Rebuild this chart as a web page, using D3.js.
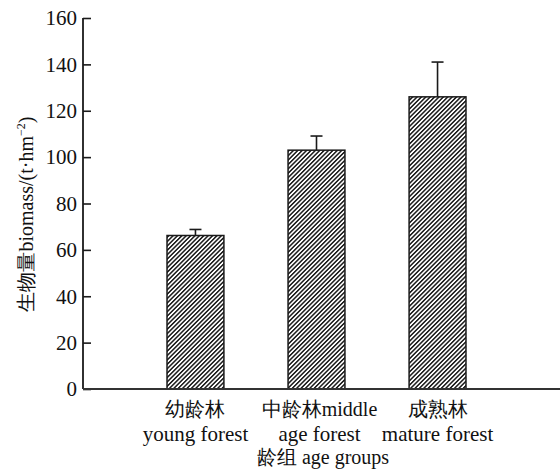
<!DOCTYPE html>
<html>
<head>
<meta charset="utf-8">
<script src="https://cdn.jsdelivr.net/npm/d3@7"></script>
<style>
  html, body { margin: 0; padding: 0; background: #fff; }
  #chart text { font-family: "Liberation Serif", serif; }
</style>
</head>
<body>
<svg id="chart" width="560" height="471"></svg>
<script>
// Biomass by forest age group
const groupsZh = ["幼龄林", "中龄林middle", "成熟林"];
const groupsEn = ["young forest", "age forest", "mature forest"];
const biomass = [66.2, 103.0, 126.0];
const errors = [2.6, 6.1, 15.0];
const yTicks = [0, 20, 40, 60, 80, 100, 120, 140, 160];

const svg = d3.select("#chart");
const plotLeft = 83, plotRight = 560, plotTop = 18, plotBottom = 389;

const y = d3.scaleLinear().domain([0, 160]).range([plotBottom, plotTop]);
const x = d3.scaleBand().domain(d3.range(biomass.length))
  .range([106.5, 526.5]).paddingInner(0.53).paddingOuter(0.5);

// diagonal hatch fill
const defs = svg.append("defs");
const pat = defs.append("pattern")
  .attr("id", "hatch").attr("patternUnits", "userSpaceOnUse")
  .attr("width", 3.1).attr("height", 3.1)
  .attr("patternTransform", "rotate(45)");
pat.append("rect").attr("width", 3.1).attr("height", 3.1).attr("fill", "#fff");
pat.append("rect").attr("width", 1.5).attr("height", 3.1).attr("fill", "#1a1a1a");

// bars
svg.append("g").selectAll("rect").data(biomass).join("rect")
  .attr("x", (d, i) => x(i))
  .attr("y", d => y(d))
  .attr("width", x.bandwidth())
  .attr("height", d => plotBottom - y(d))
  .attr("fill", "url(#hatch)")
  .attr("stroke", "#1a1a1a").attr("stroke-width", 1.5);

// error bars
const eb = svg.append("g").attr("stroke", "#1a1a1a").attr("stroke-width", 1.6);
biomass.forEach((v, i) => {
  const cx = x(i) + x.bandwidth() / 2;
  eb.append("line").attr("x1", cx).attr("x2", cx).attr("y1", y(v)).attr("y2", y(v + errors[i]));
  eb.append("line").attr("x1", cx - 6).attr("x2", cx + 6).attr("y1", y(v + errors[i])).attr("y2", y(v + errors[i]));
});

// y axis with inward ticks
const yAxis = d3.axisRight(y).tickValues(yTicks).tickSize(8).tickFormat("");
const gy = svg.append("g").attr("transform", `translate(${plotLeft},0)`).call(yAxis);
gy.select(".domain").remove();
gy.selectAll(".tick line").attr("stroke", "#1a1a1a").attr("stroke-width", 1.6);
svg.append("line").attr("x1", plotLeft).attr("x2", plotLeft).attr("y1", plotTop).attr("y2", plotBottom)
  .attr("stroke", "#1a1a1a").attr("stroke-width", 1.8);
svg.append("line").attr("x1", plotLeft).attr("x2", plotRight).attr("y1", plotBottom).attr("y2", plotBottom)
  .attr("stroke", "#333").attr("stroke-width", 1.8);

const txt = "#111";
svg.append("g").selectAll("text").data(yTicks).join("text")
  .attr("x", plotLeft - 6).attr("y", d => y(d)).attr("dy", "0.35em")
  .attr("text-anchor", "end").attr("font-size", 21).attr("fill", txt)
  .text(d => d);

// category labels
const labelOffset = [0, 3, 0];
svg.append("g").selectAll("text").data(groupsZh).join("text")
  .attr("x", (d, i) => x(i) + x.bandwidth() / 2 + labelOffset[i]).attr("y", 416)
  .attr("text-anchor", "middle").attr("font-size", 20).attr("fill", txt)
  .text(d => d);
svg.append("g").selectAll("text").data(groupsEn).join("text")
  .attr("x", (d, i) => x(i) + x.bandwidth() / 2 + labelOffset[i]).attr("y", 441)
  .attr("text-anchor", "middle").attr("font-size", 21).attr("fill", txt)
  .text(d => d);

// axis titles
svg.append("text").attr("x", 323).attr("y", 464).attr("text-anchor", "middle")
  .attr("font-size", 20).attr("fill", txt)
  .text("龄组 age groups");

const yt = svg.append("text").attr("transform", "translate(33,214) rotate(-90)")
  .attr("text-anchor", "middle").attr("font-size", 20).attr("fill", txt);
yt.append("tspan").text("生物量biomass/(t·hm");
yt.append("tspan").attr("font-size", 12).attr("dy", -8).text("−2");
yt.append("tspan").attr("dy", 8).text(")");
</script>
</body>
</html>
